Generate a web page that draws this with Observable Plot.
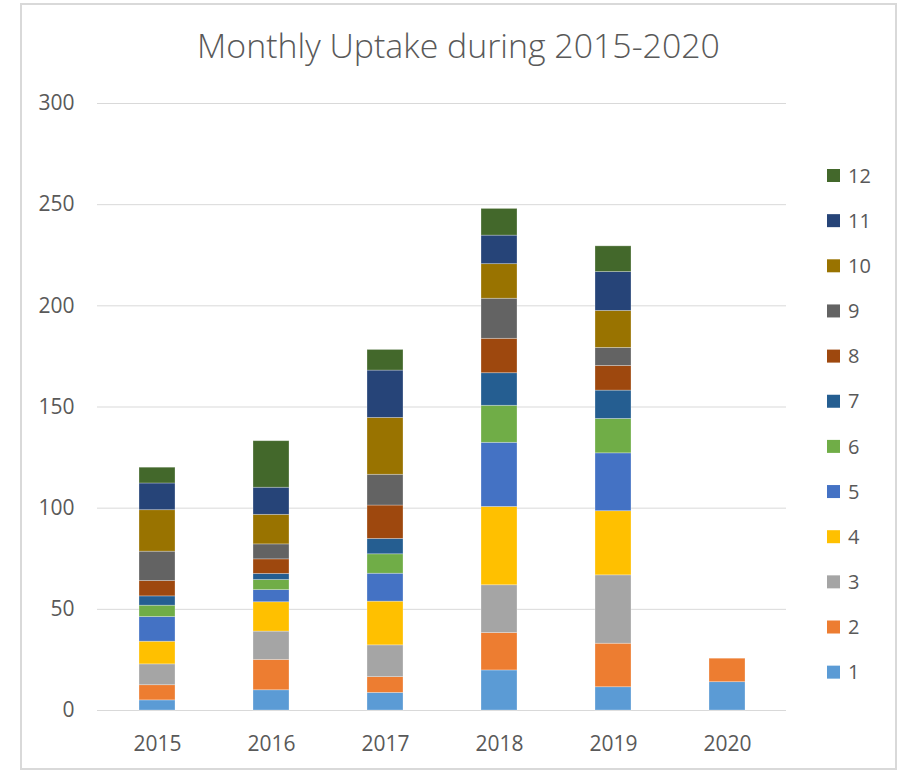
<!DOCTYPE html>
<html><head><meta charset="utf-8">
<script src="https://cdn.jsdelivr.net/npm/d3@7"></script>
<script src="https://cdn.jsdelivr.net/npm/@observablehq/plot@0.6"></script>
<style>
html,body{margin:0;padding:0;background:#fff;}
#wrap{position:relative;width:906px;height:772px;overflow:hidden;}
#wrap svg{position:absolute;left:0;top:0;}
</style></head><body><div id="wrap"></div>
<script>
const years = ["2015","2016","2017","2018","2019","2020"];
const months = [1,2,3,4,5,6,7,8,9,10,11,12];
const colors = ["#5B9BD5","#ED7D31","#A5A5A5","#FFC000","#4472C4","#70AD47","#255E91","#9E480E","#636363","#997300","#264478","#43682B"];
const v2015 = [5, 7.5, 10.3, 11.2, 12.2, 5.6, 4.6, 7.6, 14.5, 20.5, 13.2, 7.8];
const v2016 = [10, 15, 14, 14.5, 6, 5, 3, 7.2, 7.4, 14.6, 13.4, 23];
const v2017 = [8.7, 7.8, 15.7, 21.6, 13.8, 9.6, 7.6, 16.5, 15.2, 28.1, 23.4, 10.2];
const v2018 = [19.8, 18.5, 23.6, 38.7, 31.7, 18.3, 16.1, 17, 19.8, 17.1, 14.1, 13.2];
const v2019 = [11.5, 21.5, 33.8, 31.7, 28.6, 17, 14, 12.2, 8.9, 18.3, 19.2, 12.7];
const v2020 = [14, 11.6];
const yTicks = [0, 50, 100, 150, 200, 250, 300];
const titleText = "Monthly Uptake during 2015-2020";

const valuesByYear = [v2015, v2016, v2017, v2018, v2019, v2020];
const data = years.flatMap((yr, i) => valuesByYear[i].map((v, j) => ({year: yr, month: months[j], value: v})));

const FONT = "'Open Sans', 'Noto Sans', sans-serif";
const chart = Plot.plot({
  width: 906, height: 772,
  marginLeft: 97, marginRight: 120, marginTop: 103, marginBottom: 62,
  style: {fontFamily: FONT, fontSize: "21px", color: "#595959", background: "transparent", overflow: "visible"},
  x: {domain: years, paddingInner: 0.686, paddingOuter: 0.343, label: null},
  y: {domain: [0, 300], label: null},
  color: {type: "ordinal", domain: months, range: colors},
  marks: [
    Plot.ruleY(yTicks, {stroke: "#d9d9d9", strokeWidth: 1}),
    Plot.barY(data, {x: "year", y: "value", fill: "month", stroke: "white", strokeOpacity: 0.35, strokeWidth: 0.8}),
    Plot.axisX({tickSize: 0, tickPadding: 26, fontSize: 21, label: null}),
    Plot.axisY(yTicks, {tickSize: 0, tickPadding: 23, fontSize: 21, label: null})
  ]
});
document.getElementById("wrap").appendChild(chart);

const svg = d3.select("#wrap").append("svg").attr("width", 906).attr("height", 772).style("pointer-events", "none");
svg.append("rect").attr("x", 21).attr("y", 4).attr("width", 875).attr("height", 765)
  .attr("fill", "none").attr("stroke", "#d9d9d9").attr("stroke-width", 2);
const title = svg.append("text").attr("x", 458.5).attr("y", 58).attr("text-anchor", "middle")
  .attr("fill", "#595959").style("font-family", FONT).style("font-weight", 300).style("font-size", "30px")
  .text(titleText);
const tw = title.node().getComputedTextLength();
if (tw > 0) title.style("font-size", (30 * 523 / tw) + "px");

const lg = svg.append("g").style("font-family", FONT).style("font-size", "20px");
months.slice().reverse().forEach((m, i) => {
  const cy = 175.5 + i * 45.15;
  lg.append("rect").attr("x", 827).attr("y", cy - 6.5).attr("width", 13).attr("height", 13).attr("fill", colors[m - 1]);
  lg.append("text").attr("x", 848).attr("y", cy).attr("dy", "0.36em").attr("fill", "#595959").text(m);
});
</script></body></html>
